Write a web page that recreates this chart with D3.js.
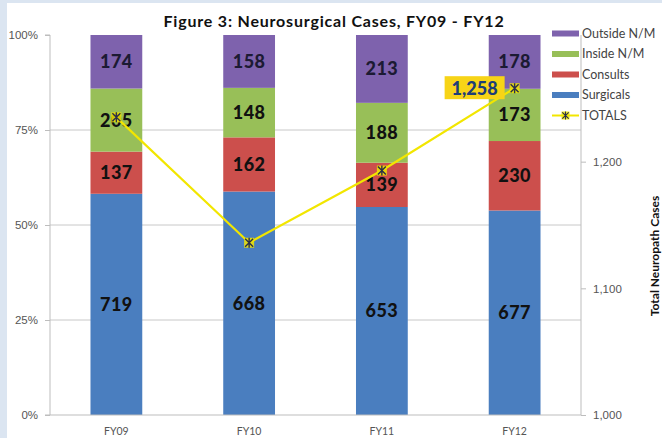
<!DOCTYPE html>
<html>
<head>
<meta charset="utf-8">
<script src="https://cdn.jsdelivr.net/npm/d3@7"></script>
<style>
  html, body { margin: 0; padding: 0; background: #dbe5f1; }
  svg { display: block; font-family: Lato, "Open Sans", sans-serif; }
</style>
</head>
<body>
<svg id="chart" width="662" height="438"></svg>
<script>
// data
const years = ['FY09', 'FY10', 'FY11', 'FY12'];
const surgicals = [719, 668, 653, 677];
const consults = [137, 162, 139, 230];
const insideNM = [205, 148, 188, 173];
const outsideNM = [174, 158, 213, 178];
const pctTicks = [0, 0.25, 0.5, 0.75, 1];
const totalTicks = [1000, 1100, 1200];

const series = [
  { name: 'Surgicals', values: surgicals, color: '#4a7ebf' },
  { name: 'Consults', values: consults, color: '#cc4f4c' },
  { name: 'Inside N/M', values: insideNM, color: '#98bf58' },
  { name: 'Outside N/M', values: outsideNM, color: '#7e62ad' }
];
const totals = years.map((y, i) => d3.sum(series, s => s.values[i]));

const svg = d3.select('#chart');
const W = 662, H = 438;
const m = { top: 35, right: 81, bottom: 23, left: 50 };

// white card, blue strip at left and top
svg.append('rect').attr('x', 7).attr('y', 3).attr('width', W - 7).attr('height', H - 3).attr('fill', '#fff');

const x = d3.scaleBand().domain(years).range([m.left, W - m.right]).paddingInner(0.61).paddingOuter(0.305);
const y = d3.scaleLinear().domain([0, 1]).range([H - m.bottom, m.top]);
const y2 = d3.scaleLinear().domain([1000, 1300]).range([H - m.bottom, m.top]);

// gridlines
svg.append('g').selectAll('line').data(pctTicks.slice(1, 4)).join('line')
  .attr('x1', m.left).attr('x2', W - m.right)
  .attr('y1', d => y(d)).attr('y2', d => y(d))
  .attr('stroke', '#c8c8c8').attr('stroke-width', 1);

// stacked 100% bars
const stackData = years.map((yr, i) => {
  const row = { year: yr };
  series.forEach(s => { row[s.name] = s.values[i] / totals[i]; });
  return row;
});
const stacked = d3.stack().keys(series.map(s => s.name))(stackData);

stacked.forEach((layer, k) => {
  const g = svg.append('g');
  g.selectAll('rect').data(layer).join('rect')
    .attr('x', d => x(d.data.year))
    .attr('width', x.bandwidth())
    .attr('y', d => y(d[1]))
    .attr('height', d => y(d[0]) - y(d[1]))
    .attr('fill', series[k].color);
  g.selectAll('text').data(layer).join('text')
    .attr('x', d => x(d.data.year) + x.bandwidth() / 2)
    .attr('y', d => (y(d[0]) + y(d[1])) / 2)
    .attr('dy', '0.36em')
    .attr('text-anchor', 'middle')
    .attr('font-size', 18).attr('font-weight', 900).attr('letter-spacing', 0.5)
    .attr('fill', k === 3 ? '#1c1a33' : '#111')
    .text((d, i) => series[k].values[i]);
});

// left axis
const yAxis = svg.append('g').attr('transform', `translate(${m.left},0)`)
  .call(d3.axisLeft(y).tickValues(pctTicks).tickFormat(d3.format('.0%')).tickSize(5));
yAxis.select('.domain').attr('stroke', '#bdbdbd').attr('d', `M-5,${y(1)}H0V${y(0)}H-5`);
yAxis.selectAll('.tick line').attr('stroke', '#bdbdbd');
yAxis.selectAll('.tick text').attr('fill', '#555').attr('font-size', 11.5).attr('x', -12);

// bottom axis line + labels
svg.append('line').attr('x1', m.left).attr('x2', W - m.right)
  .attr('y1', y(0)).attr('y2', y(0)).attr('stroke', '#bdbdbd');
svg.append('g').selectAll('text').data(years).join('text')
  .attr('x', d => x(d) + x.bandwidth() / 2).attr('y', H - 3)
  .attr('text-anchor', 'middle').attr('font-size', 10.5).attr('fill', '#555')
  .text(d => d);

// right axis
const y2Axis = svg.append('g').attr('transform', `translate(${W - m.right},0)`)
  .call(d3.axisRight(y2).tickValues(totalTicks).tickFormat(d3.format(',')).tickSize(5));
y2Axis.select('.domain').attr('stroke', '#bdbdbd').attr('d', `M0,${y2(1300)}V${y2(1000)}`);
y2Axis.selectAll('.tick line').attr('stroke', '#bdbdbd');
y2Axis.selectAll('.tick text').attr('fill', '#555').attr('font-size', 11.5).attr('x', 12);

svg.append('text')
  .attr('transform', `translate(659,${(m.top + H - m.bottom) / 2 + 31}) rotate(-90)`)
  .attr('text-anchor', 'middle').attr('font-size', 12).attr('font-weight', 'bold').attr('fill', '#111')
  .text('Total Neuropath Cases');

// totals line
const cx = d => x(d) + x.bandwidth() / 2;
svg.append('path')
  .datum(years.map((yr, i) => [cx(yr), y2(totals[i])]))
  .attr('d', d3.line())
  .attr('fill', 'none').attr('stroke', '#f2e600').attr('stroke-width', 2.2);

function star(g) {
  g.append('rect').attr('x', -5).attr('y', -5).attr('width', 10).attr('height', 10)
    .attr('fill', '#f2e600').attr('opacity', 0.85);
  g.append('path').attr('d', 'M-4,-4L4,4M-4,4L4,-4M0,-5V5')
    .attr('stroke', '#2b2f4a').attr('stroke-width', 1.4);
}
svg.append('g').selectAll('g').data(years).join('g')
  .attr('transform', (d, i) => `translate(${cx(d)},${y2(totals[i])})`)
  .each(function() { star(d3.select(this)); });

// data label for the last total
const last = totals.length - 1;
const lbl = svg.append('g').attr('transform', `translate(${cx(years[last]) - 40},${y2(totals[last])})`);
lbl.append('rect').attr('x', -30).attr('y', -12).attr('width', 60).attr('height', 23).attr('fill', '#f7d417');
lbl.append('text').attr('text-anchor', 'middle').attr('dy', '0.36em')
  .attr('font-size', 18).attr('font-weight', 900).attr('fill', '#1d3d78')
  .text(d3.format(',')(totals[last]));

// title
svg.append('text').attr('x', 334).attr('y', 27).attr('text-anchor', 'middle')
  .attr('font-size', 16).attr('font-weight', 'bold').attr('letter-spacing', 0.8).attr('fill', '#111')
  .text('Figure 3: Neurosurgical Cases, FY09 - FY12');

// legend
const legendItems = series.slice().reverse().concat([{ name: 'TOTALS', line: true }]);
const lg = svg.append('g').selectAll('g').data(legendItems).join('g')
  .attr('transform', (d, i) => `translate(552,${33.5 + i * 20.5})`);
lg.each(function(d) {
  const g = d3.select(this);
  if (d.line) {
    g.append('line').attr('x1', 0).attr('x2', 27).attr('stroke', '#f2e600').attr('stroke-width', 2);
    const s = g.append('g').attr('transform', 'translate(13.5,0) scale(0.8)');
    star(s);
  } else {
    g.append('rect').attr('x', 0).attr('y', -3).attr('width', 27).attr('height', 6).attr('fill', d.color);
  }
});
lg.append('text').attr('x', 30).attr('dy', '0.35em').attr('font-size', 12.5).attr('fill', '#444')
  .text(d => d.name);
</script>
</body>
</html>
